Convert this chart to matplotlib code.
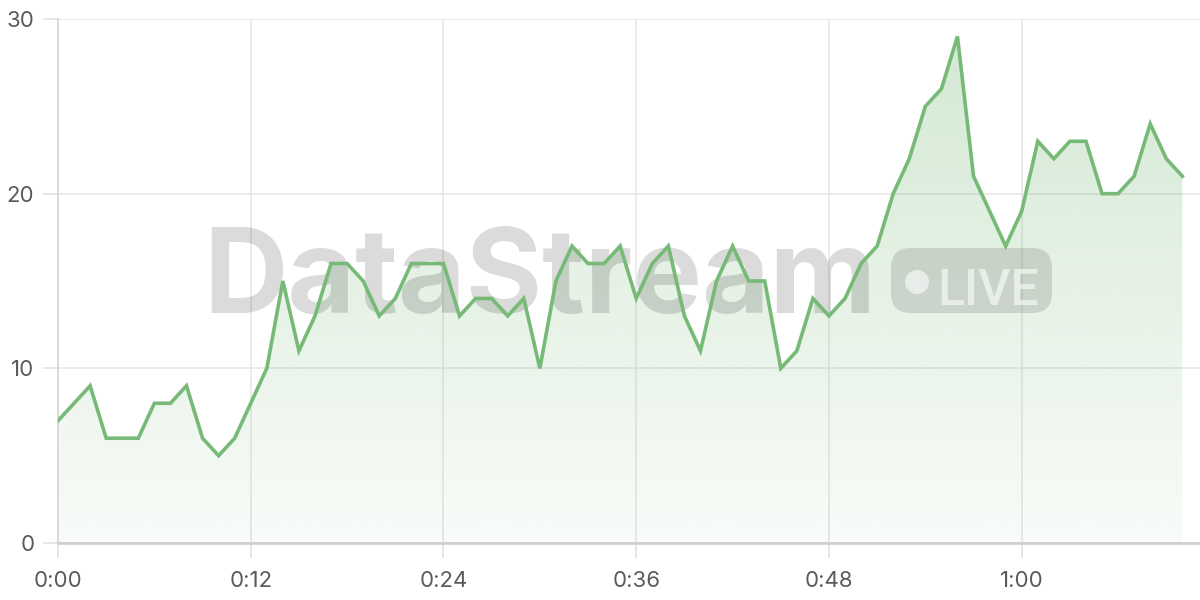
import numpy as np
import matplotlib
matplotlib.use("Agg")
import matplotlib.pyplot as plt
from matplotlib.patches import Polygon, FancyBboxPatch, Circle

# ---- data ----
seconds = list(range(71))
values = [7, 8, 9, 6, 6, 6, 8, 8, 9, 6, 5, 6, 8, 10, 15, 11, 13, 16, 16, 15,
          13, 14, 16, 16, 16, 13, 14, 14, 13, 14, 10, 15, 17, 16, 16, 17, 14, 16, 17, 13,
          11, 15, 17, 15, 15, 10, 11, 14, 13, 14, 16, 17, 20, 22, 25, 26, 29, 21, 19, 17,
          19, 23, 22, 23, 23, 20, 20, 21, 24, 22, 21]
x_ticks = [0, 12, 24, 36, 48, 60]
x_tick_labels = ["0:00", "0:12", "0:24", "0:36", "0:48", "1:00"]
y_ticks = [0, 10, 20, 30]
y_tick_labels = ["0", "10", "20", "30"]
watermark = "DataStream"
badge = "LIVE"

plt.rcParams['font.family'] = ['Inter', 'DejaVu Sans']

green = '#77b977'
green_rgb = matplotlib.colors.to_rgb(green)

fig = plt.figure(figsize=(12, 6), dpi=100)
ax = fig.add_axes([58/1200, 57/600, 1 - 58/1200, (543-19)/600])

x = np.array(seconds, dtype=float)
y = np.array(values, dtype=float)

# gradient fill under the line
verts = np.column_stack([np.r_[x[0], x, x[-1]], np.r_[0, y, 0]])
poly = Polygon(verts, closed=True, facecolor='none', edgecolor='none')
ax.add_patch(poly)
n = 256
rgba = np.zeros((n, 1, 4))
rgba[..., 0] = green_rgb[0]
rgba[..., 1] = green_rgb[1]
rgba[..., 2] = green_rgb[2]
rgba[:, 0, 3] = np.linspace(0.05, 0.33, n)
im = ax.imshow(rgba, extent=[x[0], x[-1], 0, 30], origin='lower',
               aspect='auto', zorder=1, interpolation='bilinear')
im.set_clip_path(poly)

ax.plot(x, y, color=green, lw=2.6, zorder=5, solid_joinstyle='miter')

ax.set_xlim(0, 71.1)
ax.set_ylim(0, 30)

ax.set_xticks(x_ticks)
ax.set_xticklabels(x_tick_labels)
ax.set_yticks(y_ticks)
ax.set_yticklabels(y_tick_labels)
ax.grid(True, color='#e8e8e8', lw=1.2, zorder=0)
ax.set_axisbelow(True)
for s in ['top', 'right']:
    ax.spines[s].set_visible(False)
ax.spines['left'].set_color('#dadada')
ax.spines['left'].set_linewidth(1.4)
ax.spines['bottom'].set_color('#cccccc')
ax.spines['bottom'].set_linewidth(1.8)
ax.tick_params(axis='both', colors='#e2e2e2', width=1.2, length=11,
               labelcolor='#5a5a5a', labelsize=16)
ax.tick_params(axis='y', pad=6)
ax.tick_params(axis='x', pad=9)

# watermark (above fill, below line)
ax.text(540/1200, 1 - 313/600, watermark, transform=fig.transFigure,
        ha='center', va='baseline', fontsize=84, fontweight='bold',
        color='black', alpha=0.14, zorder=3, clip_on=False)

pill = FancyBboxPatch((8.91, 2.87), 1.61, 0.65,
                      boxstyle='round,pad=0,rounding_size=0.2',
                      transform=fig.dpi_scale_trans, facecolor='black',
                      alpha=0.12, edgecolor='none', zorder=3, clip_on=False)
ax.add_artist(pill)
dot = Circle((9.17, 3.18), 0.12, transform=fig.dpi_scale_trans,
             facecolor='white', alpha=0.6, edgecolor='none', zorder=3.5,
             clip_on=False)
ax.add_artist(dot)
ax.text(9.37/12, 2.95/6, badge, transform=fig.transFigure, ha='left',
        va='baseline', fontsize=36, fontweight='medium', family=['Roboto', 'DejaVu Sans'],
        color='white', alpha=0.6, zorder=3.5, clip_on=False)

fig.savefig('out.png', dpi=100)
